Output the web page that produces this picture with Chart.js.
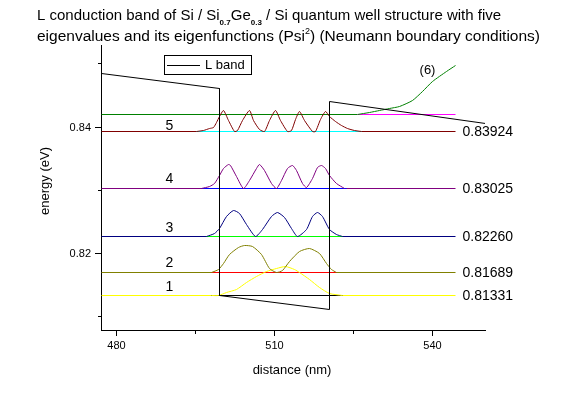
<!DOCTYPE html>
<html>
<head>
<meta charset="utf-8">
<script src="https://cdn.jsdelivr.net/npm/chart.js@4"></script>
<style>
  body { margin: 0; background: #fff; }
  #box { width: 564px; height: 396px; }
</style>
</head>
<body>
<div id="box"><canvas id="grafico" width="564" height="396"></canvas></div>
<script>
// assi
const xTicks = [480, 495, 510, 525, 540];
const yTicks = [0.81, 0.82, 0.83, 0.84, 0.85];

// L band (profilo del potenziale)
const bandX = [477.06, 499.6, 499.6, 520.47, 520.47, 550];
const bandE = [0.84851, 0.84613, 0.81322, 0.81111, 0.84401, 0.84062];

// autovalori
const levelNames = ["1", "2", "3", "4", "5"];
const levelE = [0.81331, 0.81689, 0.82260, 0.83025, 0.83924];
const labelE = [0.81453, 0.81840, 0.82384, 0.83171, 0.84016];
const levelStart = 477.06;
const levelEnd = 544.49;
const midStart = [498.05, 498.05, 497.10, 496.15, 495.26];
const midEnd = [522.94, 521.74, 522.94, 523.64, 526.48];

// livello (6), non legato
const level6E = 0.84206;
const level6Split = 525.78;
const psi6X = [525.78, 528.06, 529.95, 531.85, 533.74, 536.27, 538.16, 540.06, 542.60, 544.49];
const psi6E = [0.84206, 0.84230, 0.84269, 0.84296, 0.84333, 0.84428, 0.84559, 0.84718, 0.84876, 0.84971];

// autofunzioni Psi^2 (spostate sull'autovalore)
const psi1X = [498.10, 499.30, 500.89, 502.79, 504.68, 506.58, 508.47, 510.37, 512.13, 513.84, 514.79, 516.68, 518.58, 520.47, 522.94];
const psi1E = [0.81331, 0.81331, 0.81374, 0.81425, 0.81531, 0.81635, 0.81704, 0.81756, 0.81788, 0.81740, 0.81688, 0.81583, 0.81452, 0.81362, 0.81331];

const psi2X = [498.05, 499.30, 500.25, 501.52, 503.09, 504.36, 505.93, 507.53, 509.10, 510.43, 511.56, 512.89, 514.79, 516.68, 518.58, 519.85, 520.80, 521.74];
const psi2E = [0.81689, 0.81736, 0.81842, 0.81972, 0.82094, 0.82130, 0.82103, 0.81972, 0.81763, 0.81689, 0.81720, 0.81867, 0.82024, 0.82078, 0.81999, 0.81842, 0.81736, 0.81689];

const psi3X = [497.10, 498.67, 499.62, 500.89, 502.27, 503.41, 504.68, 506.39, 507.83, 509.42, 510.62, 511.94, 513.27, 514.46, 516.06, 517.31, 518.26, 519.20, 520.47, 521.74, 523.00];
const psi3E = [0.82257, 0.82318, 0.82397, 0.82580, 0.82674, 0.82633, 0.82449, 0.82265, 0.82370, 0.82580, 0.82646, 0.82559, 0.82386, 0.82265, 0.82370, 0.82580, 0.82643, 0.82580, 0.82370, 0.82291, 0.82257];

const psi4X = [496.15, 497.73, 498.67, 499.62, 500.25, 501.19, 501.71, 502.79, 504.04, 505.31, 506.58, 507.20, 508.15, 509.42, 510.33, 511.37, 512.51, 513.40, 514.22, 515.36, 516.17, 517.25, 518.20, 518.90, 519.72, 520.47, 521.74, 523.32];
const psi4E = [0.83025, 0.83053, 0.83107, 0.83238, 0.83343, 0.83406, 0.83387, 0.83211, 0.83028, 0.83159, 0.83343, 0.83406, 0.83316, 0.83107, 0.83028, 0.83159, 0.83348, 0.83398, 0.83316, 0.83112, 0.83036, 0.83190, 0.83364, 0.83395, 0.83348, 0.83238, 0.83107, 0.83028];

const psi5X = [495.26, 496.45, 497.73, 498.35, 499.05, 499.62, 500.38, 501.33, 502.46, 503.03, 503.98, 505.18, 506.07, 507.20, 508.15, 509.10, 510.14, 511.18, 512.51, 513.27, 514.03, 514.79, 515.74, 517.25, 517.82, 518.77, 519.66, 520.47, 521.61, 522.69, 523.89, 525.21, 526.54];
const psi5E = [0.83924, 0.83948, 0.83971, 0.83999, 0.84074, 0.84173, 0.84263, 0.84105, 0.83932, 0.83948, 0.84105, 0.84263, 0.84105, 0.83963, 0.83932, 0.84105, 0.84263, 0.84105, 0.83932, 0.83948, 0.84121, 0.84247, 0.84105, 0.83924, 0.83932, 0.84121, 0.84247, 0.84173, 0.84089, 0.84026, 0.83971, 0.83940, 0.83924];

// colori
const psiColors = ["#ffff00", "#808000", "#000080", "#800080", "#800000"];
const midColors = ["#000000", "#ff0000", "#00ff00", "#0000ff", "#00ffff"];

const FONT = '"Liberation Sans", Arial, sans-serif';

const pts = (xs, es) => xs.map((x, i) => ({ x: x, y: es[i] }));
const seg = (x0, x1, e) => [{ x: x0, y: e }, { x: x1, y: e }];

function linea(label, data, color, tension) {
  return { label, data, borderColor: color, borderWidth: 1, showLine: true, pointRadius: 0, fill: false, tension: tension || 0 };
}

const datasets = [];
// righe dei livelli
levelE.forEach((e, i) => datasets.push(linea("lev" + levelNames[i], seg(levelStart, levelEnd, e), psiColors[i])));
levelE.forEach((e, i) => datasets.push(linea("mid" + levelNames[i], seg(midStart[i], midEnd[i], e), midColors[i])));
datasets.push(linea("lev6", seg(levelStart, level6Split, level6E), "#008000"));
datasets.push(linea("lev6b", seg(level6Split, levelEnd, level6E), "#ff00ff"));
// autofunzioni
const psiX = [psi1X, psi2X, psi3X, psi4X, psi5X];
const psiE = [psi1E, psi2E, psi3E, psi4E, psi5E];
psiX.forEach((xs, i) => datasets.push(linea("psi" + levelNames[i], pts(xs, psiE[i]), psiColors[i], 0.2)));
datasets.push(linea("psi6", pts(psi6X, psi6E), "#008000", 0.2));
datasets.push(linea("L band", pts(bandX, bandE), "#000000"));
datasets.forEach((d, i) => { d.order = datasets.length - i; });

// linee nitide: aggancia i pixel al mezzo pixel
const aggancio = {
  id: "aggancio",
  afterLayout(chart) {
    Object.values(chart.scales).forEach(s => {
      const orig = Object.getPrototypeOf(s).getPixelForValue;
      s.getPixelForValue = function (v, i) { return Math.floor(orig.call(this, v, i)) + 0.5; };
    });
  }
};

function scriviRiga(ctx, parti, x, y, size) {
  parti.forEach(([testo, tipo]) => {
    let dy = 0;
    if (tipo === "sub") { ctx.font = "bold 8px " + FONT; dy = 5; }
    else if (tipo === "sup") { ctx.font = "9px " + FONT; dy = -7; }
    else ctx.font = size + "px " + FONT;
    ctx.fillText(testo, x, y + dy);
    x += ctx.measureText(testo).width;
  });
}

const decorazioni = {
  id: "decorazioni",
  afterDraw(chart) {
    const { ctx, chartArea } = chart;
    const x = chart.scales.x, y = chart.scales.y;
    ctx.save();
    ctx.strokeStyle = "#000";
    ctx.fillStyle = "#000";
    ctx.lineWidth = 1;

    // tacche
    x.ticks.forEach(t => {
      const px = x.getPixelForValue(t.value);
      const len = t.value % 30 === 0 ? 6 : 4;
      ctx.beginPath(); ctx.moveTo(px, chartArea.bottom); ctx.lineTo(px, chartArea.bottom + len); ctx.stroke();
    });
    y.ticks.forEach(t => {
      const py = y.getPixelForValue(t.value);
      const len = Math.round(t.value * 100) % 2 === 0 ? 6 : 3;
      ctx.beginPath(); ctx.moveTo(chartArea.left, py); ctx.lineTo(chartArea.left - len, py); ctx.stroke();
    });

    // titolo
    ctx.textBaseline = "alphabetic";
    ctx.textAlign = "left";
    scriviRiga(ctx, [["L conduction band of Si / Si", "n"], ["0.7", "sub"], ["Ge", "n"], ["0.3", "sub"], [" / Si quantum well structure with five", "n"]], 37, 20, 15);
    scriviRiga(ctx, [["eigenvalues and its eigenfunctions (Psi", "n"], ["2", "sup"], [") (Neumann boundary conditions)", "n"]], 37, 41, 15.5);

    // titoli assi
    ctx.font = "13px " + FONT;
    ctx.textAlign = "center";
    ctx.textBaseline = "middle";
    ctx.fillText("distance (nm)", 292, 370);
    ctx.save();
    ctx.translate(45, 181);
    ctx.rotate(-Math.PI / 2);
    ctx.fillText("energy (eV)", 0, 0);
    ctx.restore();

    // legenda
    ctx.strokeRect(164.5, 55.5, 87, 19);
    ctx.beginPath(); ctx.moveTo(167, 65.5); ctx.lineTo(200, 65.5); ctx.stroke();
    ctx.textAlign = "left";
    ctx.fillText("L band", 205, 65.5);

    // etichette dei livelli
    ctx.font = "14px " + FONT;
    levelE.forEach((e, i) => {
      const py = y.getPixelForValue(e);
      ctx.textAlign = "center";
      ctx.fillText(levelNames[i], x.getPixelForValue(490.15), y.getPixelForValue(labelE[i]));
      ctx.textAlign = "left";
      ctx.fillText(e.toFixed(5), x.getPixelForValue(levelEnd) + 7, py + 1);
    });
    ctx.textAlign = "center";
    ctx.font = "13px " + FONT;
    ctx.fillText("(6)", x.getPixelForValue(539.05), y.getPixelForValue(0.84892));
    ctx.restore();
  }
};

new Chart(document.getElementById("grafico"), {
  type: "scatter",
  data: { datasets },
  options: {
    responsive: false,
    animation: false,
    devicePixelRatio: 1,
    events: [],
    layout: { padding: { left: 0, top: 45, right: 79, bottom: 0 } },
    plugins: { legend: { display: false }, tooltip: { enabled: false }, title: { display: false } },
    scales: {
      x: {
        type: "linear", min: 477.06, max: 550,
        grid: { display: false, drawTicks: false },
        border: { display: true, color: "#000", width: 1 },
        ticks: { padding: 9, color: "#000", font: { family: FONT, size: 11 }, maxRotation: 0,
          callback: v => (v % 30 === 0 ? String(v) : "") },
        afterBuildTicks: s => { s.ticks = xTicks.map(v => ({ value: v })); },
        afterFit: s => { s.height = 66; }
      },
      y: {
        type: "linear", min: 0.80783, max: 0.85300,
        grid: { display: false, drawTicks: false },
        border: { display: true, color: "#000", width: 1 },
        ticks: { padding: 10, color: "#000", font: { family: FONT, size: 11 },
          callback: v => (Math.round(v * 100) % 2 === 0 ? v.toFixed(2) : "") },
        afterBuildTicks: s => { s.ticks = yTicks.map(v => ({ value: v })); },
        afterFit: s => { s.width = 101; }
      }
    }
  },
  plugins: [aggancio, decorazioni]
});
</script>
</body>
</html>
